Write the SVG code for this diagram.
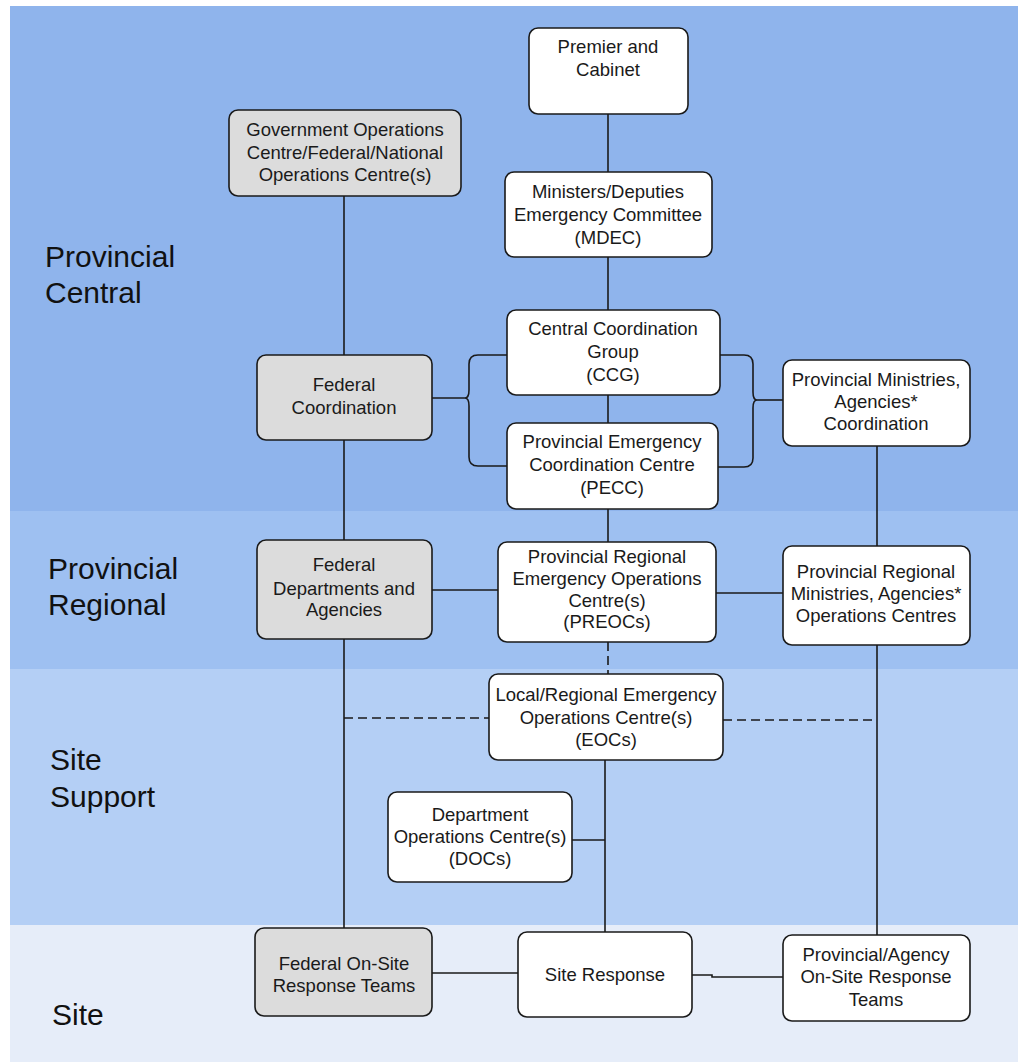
<svg xmlns="http://www.w3.org/2000/svg" width="1018" height="1062" viewBox="0 0 1018 1062">
  <style>
    .box { stroke: #1a1a1a; stroke-width: 1.6; }
    .w { fill: #ffffff; }
    .g { fill: #dcdcdc; }
    .t { font-family: "Liberation Sans", Arial, sans-serif; font-size: 18.5px; fill: #1a1a1a; text-anchor: middle; }
    .lvl { font-family: "Liberation Sans", Arial, sans-serif; font-size: 30px; fill: #111; }
    .ln { stroke: #1a1a1a; stroke-width: 1.6; fill: none; }
    .dash { stroke-dasharray: 9 5; }
  </style>

  <!-- level bands -->
  <rect x="0" y="0" width="1018" height="1062" fill="#ffffff"/>
  <rect x="10" y="6" width="1008" height="505" fill="#8fb4ec"/>
  <rect x="10" y="511" width="1008" height="158" fill="#9ec0f1"/>
  <rect x="10" y="669" width="1008" height="256" fill="#b4cff5"/>
  <rect x="10" y="925" width="1008" height="137" fill="#e6edf9"/>

  <!-- level labels -->
  <g id="levels">
    <text class="lvl" x="45" y="267">Provincial</text>
    <text class="lvl" x="45" y="303">Central</text>
    <text class="lvl" x="48" y="579">Provincial</text>
    <text class="lvl" x="48" y="615">Regional</text>
    <text class="lvl" x="50" y="770">Site</text>
    <text class="lvl" x="50" y="807">Support</text>
    <text class="lvl" x="52" y="1025">Site</text>
  </g>

  <!-- connectors -->
  <g id="connectors">
    <line class="ln" x1="608" y1="114" x2="608" y2="172"/>
    <line class="ln" x1="608" y1="257" x2="608" y2="310"/>
    <line class="ln" x1="608" y1="395" x2="608" y2="423"/>
    <line class="ln" x1="608" y1="509" x2="608" y2="542"/>
    <line class="ln dash" x1="608" y1="642" x2="608" y2="674"/>
    <line class="ln" x1="605" y1="760" x2="605" y2="932"/>
    <line class="ln" x1="572" y1="840" x2="605" y2="840"/>

    <line class="ln" x1="344" y1="196" x2="344" y2="355"/>
    <line class="ln" x1="344" y1="440" x2="344" y2="540"/>
    <line class="ln" x1="344" y1="639" x2="344" y2="928"/>
    <line class="ln dash" x1="344" y1="718" x2="489" y2="718"/>
    <line class="ln dash" x1="723" y1="720" x2="877" y2="720"/>

    <line class="ln" x1="877" y1="446" x2="877" y2="546"/>
    <line class="ln" x1="877" y1="645" x2="877" y2="935"/>

    <line class="ln" x1="432" y1="590" x2="498" y2="590"/>
    <line class="ln" x1="716" y1="593" x2="783" y2="593" stroke-width="2.4"/>
    <line class="ln" x1="432" y1="973" x2="518" y2="973"/>
    <polyline class="ln" points="692,975 712,975 712,977 783,977"/>

    <!-- left brace joining CCG and PECC to Federal Coordination -->
    <line class="ln" x1="432" y1="398" x2="465" y2="398"/>
    <path class="ln" d="M507,355 H478 Q469,355 469,364 V390 Q469,398 465,398 Q469,398 469,406 V457 Q469,466 478,466 H507"/>
    <!-- right brace joining CCG and PECC to Provincial Ministries -->
    <line class="ln" x1="757" y1="400" x2="783" y2="400"/>
    <path class="ln" d="M720,355 H744 Q753,355 753,364 V392 Q753,400 757,400 Q753,400 753,408 V458 Q753,467 744,467 H718"/>
  </g>

  <!-- nodes -->
  <g id="premier">
    <rect class="box w" x="529" y="28" width="159" height="86" rx="9"/>
    <text class="t" x="608" y="53">Premier and</text>
    <text class="t" x="608" y="76">Cabinet</text>
  </g>
  <g id="goc">
    <rect class="box g" x="229" y="110" width="232" height="86" rx="9"/>
    <text class="t" x="345" y="136">Government Operations</text>
    <text class="t" x="345" y="159">Centre/Federal/National</text>
    <text class="t" x="345" y="181">Operations Centre(s)</text>
  </g>
  <g id="mdec">
    <rect class="box w" x="505" y="172" width="207" height="85" rx="9"/>
    <text class="t" x="608" y="198">Ministers/Deputies</text>
    <text class="t" x="608" y="221">Emergency Committee</text>
    <text class="t" x="608" y="244">(MDEC)</text>
  </g>
  <g id="ccg">
    <rect class="box w" x="507" y="310" width="213" height="85" rx="9"/>
    <text class="t" x="613" y="335">Central Coordination</text>
    <text class="t" x="613" y="358">Group</text>
    <text class="t" x="613" y="381">(CCG)</text>
  </g>
  <g id="pecc">
    <rect class="box w" x="507" y="423" width="211" height="86" rx="9"/>
    <text class="t" x="612" y="448">Provincial Emergency</text>
    <text class="t" x="612" y="471">Coordination Centre</text>
    <text class="t" x="612" y="494">(PECC)</text>
  </g>
  <g id="federal-coordination">
    <rect class="box g" x="257" y="355" width="175" height="85" rx="9"/>
    <text class="t" x="344" y="391">Federal</text>
    <text class="t" x="344" y="414">Coordination</text>
  </g>
  <g id="ministries-coordination">
    <rect class="box w" x="783" y="360" width="187" height="86" rx="9"/>
    <text class="t" x="876" y="386">Provincial Ministries,</text>
    <text class="t" x="876" y="408">Agencies*</text>
    <text class="t" x="876" y="430">Coordination</text>
  </g>
  <g id="federal-departments">
    <rect class="box g" x="257" y="540" width="175" height="99" rx="9"/>
    <text class="t" x="344" y="571">Federal</text>
    <text class="t" x="344" y="595">Departments and</text>
    <text class="t" x="344" y="616">Agencies</text>
  </g>
  <g id="preocs">
    <rect class="box w" x="498" y="542" width="218" height="100" rx="9"/>
    <text class="t" x="607" y="563">Provincial Regional</text>
    <text class="t" x="607" y="585">Emergency Operations</text>
    <text class="t" x="607" y="607">Centre(s)</text>
    <text class="t" x="607" y="628">(PREOCs)</text>
  </g>
  <g id="regional-ministries">
    <rect class="box w" x="783" y="546" width="187" height="99" rx="9"/>
    <text class="t" x="876" y="578">Provincial Regional</text>
    <text class="t" x="876" y="600">Ministries, Agencies*</text>
    <text class="t" x="876" y="622">Operations Centres</text>
  </g>
  <g id="eocs">
    <rect class="box w" x="489" y="674" width="234" height="86" rx="9"/>
    <text class="t" x="606" y="701">Local/Regional Emergency</text>
    <text class="t" x="606" y="724">Operations Centre(s)</text>
    <text class="t" x="606" y="746">(EOCs)</text>
  </g>
  <g id="docs">
    <rect class="box w" x="388" y="792" width="184" height="90" rx="9"/>
    <text class="t" x="480" y="821">Department</text>
    <text class="t" x="480" y="843">Operations Centre(s)</text>
    <text class="t" x="480" y="865">(DOCs)</text>
  </g>
  <g id="federal-onsite">
    <rect class="box g" x="255" y="928" width="177" height="88" rx="9"/>
    <text class="t" x="344" y="970">Federal On-Site</text>
    <text class="t" x="344" y="992">Response Teams</text>
  </g>
  <g id="site-response">
    <rect class="box w" x="518" y="932" width="174" height="85" rx="9"/>
    <text class="t" x="605" y="981">Site Response</text>
  </g>
  <g id="agency-onsite">
    <rect class="box w" x="783" y="935" width="187" height="86" rx="9"/>
    <text class="t" x="876" y="961">Provincial/Agency</text>
    <text class="t" x="876" y="983">On-Site Response</text>
    <text class="t" x="876" y="1006">Teams</text>
  </g>
</svg>
